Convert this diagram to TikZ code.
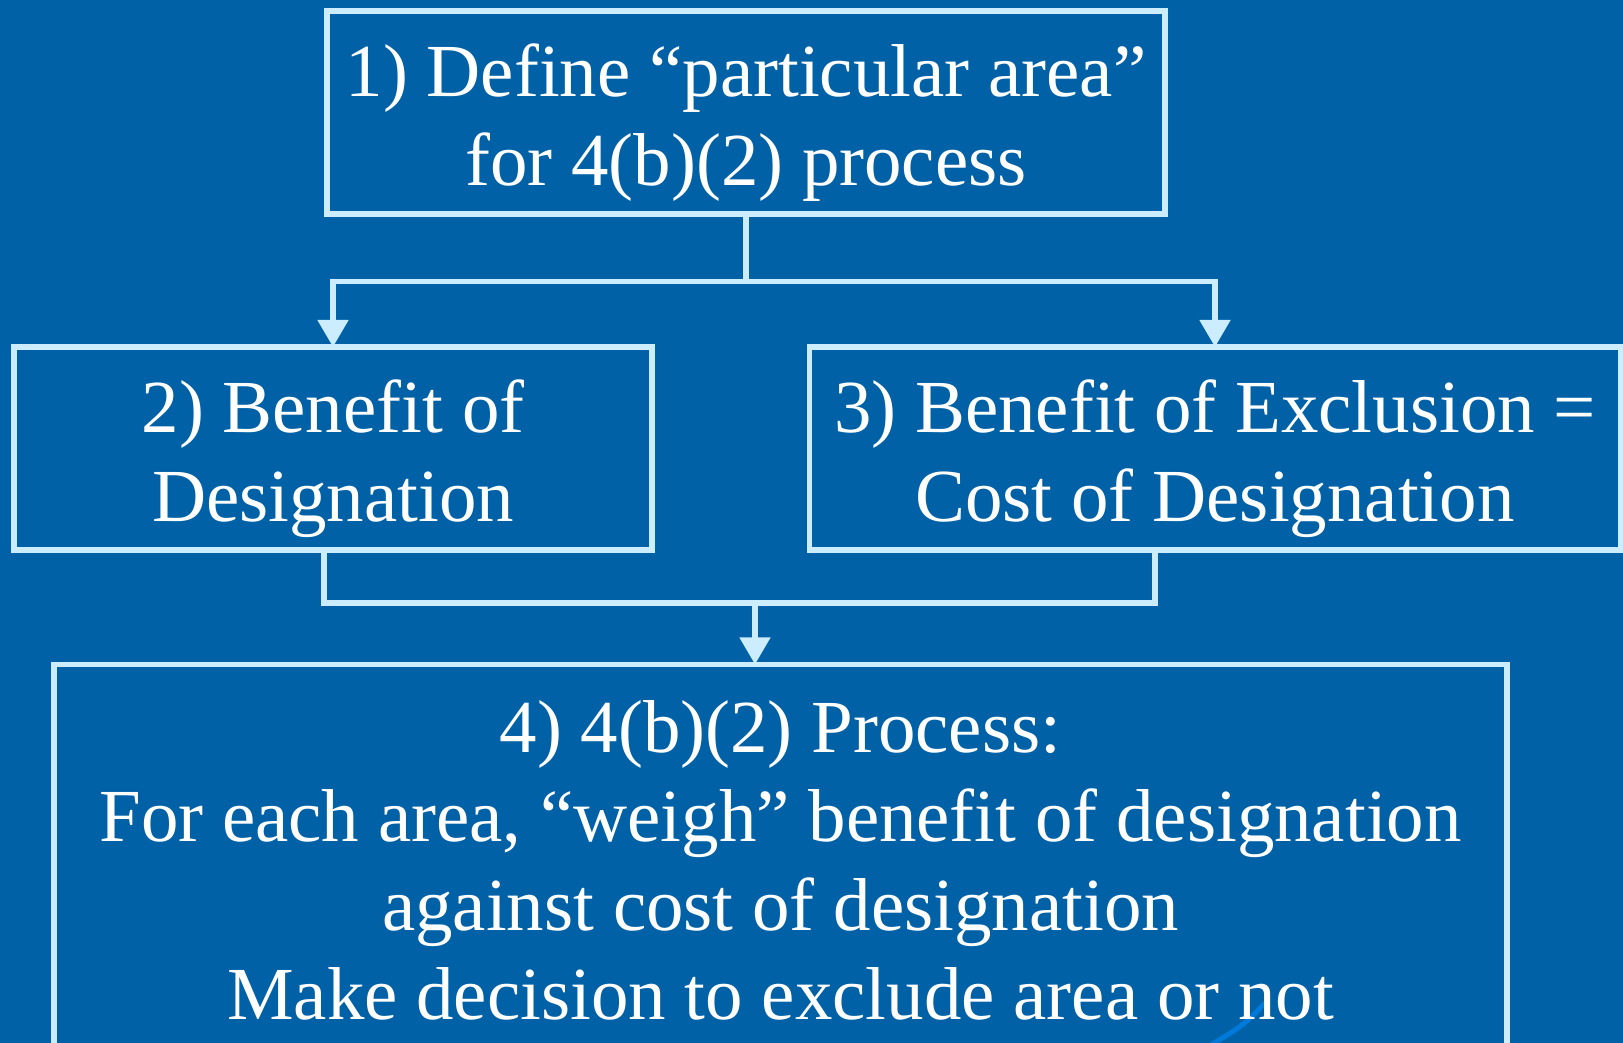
\documentclass[tikz,border=0pt]{standalone}
\usepackage{fontspec}
\setmainfont{Liberation Serif}
\usetikzlibrary{arrows.meta}

\definecolor{slidebg}{RGB}{0,97,166}
\definecolor{lineblue}{RGB}{204,236,255}
\definecolor{arcblue}{RGB}{0,122,218}

\begin{document}
\begin{tikzpicture}[
    x=0.01cm, y=-0.01cm,
    >={Triangle[width=0.3cm, length=0.27cm]},
    every node/.style={font=\fontsize{21.3}{25.3}\selectfont, text=white},
    stepbox/.style={
        draw=lineblue,
        line width=1.6pt,
        align=center,
        inner sep=0pt,
        outer sep=0pt
    },
    lowtext/.style={execute at begin node={\rule{0pt}{46pt}}},
    link/.style={draw=lineblue, line width=1.45pt},
    arr/.style={link, ->}
]
    % Slide background
    \useasboundingbox (0,0) rectangle (1623,1043);
    \clip (0,0) rectangle (1623,1043);
    \fill[slidebg] (0,0) rectangle (1623,1043);

    % Stray arc on the slide
    \draw[arcblue, line width=1.4pt] (1266,1002) .. controls (1244,1025) .. (1206,1048);

    % Main boxes
    \node[stepbox, lowtext, minimum width=8.38cm, minimum height=2.03cm] (define) at (746,112.5)
        {1) Define “particular area”\\for 4(b)(2) process};

    \node[stepbox, lowtext, minimum width=6.375cm, minimum height=2.03cm] (benefit) at (333,448.5)
        {2) Benefit of\\Designation};

    \node[stepbox, lowtext, minimum width=8.105cm, minimum height=2.03cm] (exclusion) at (1215,448.5)
        {3) Benefit of Exclusion =\\Cost of Designation};

    \node[stepbox, minimum width=14.52cm, minimum height=3.91cm] (weigh) at (780.5,860)
        {4) 4(b)(2) Process:\\For each area, “weigh” benefit of designation\\against cost of designation\\Make decision to exclude area or not};

    % Fork from box 1
    \coordinate (fork) at (746,281.5);
    \draw[link] (define.south) -- (fork);
    \draw[arr] (fork) -| (benefit.north);
    \draw[arr] (fork) -| (exclusion.north);

    % Join into box 4
    \coordinate (legL) at (324,603);
    \coordinate (legR) at (1155,603);
    \coordinate (join) at (755,603);
    \draw[link] (legL |- benefit.south) -- (legL) -- (legR) -- (legR |- exclusion.south);
    \draw[arr] (join) -- (join |- weigh.north);

\end{tikzpicture}
\end{document}
